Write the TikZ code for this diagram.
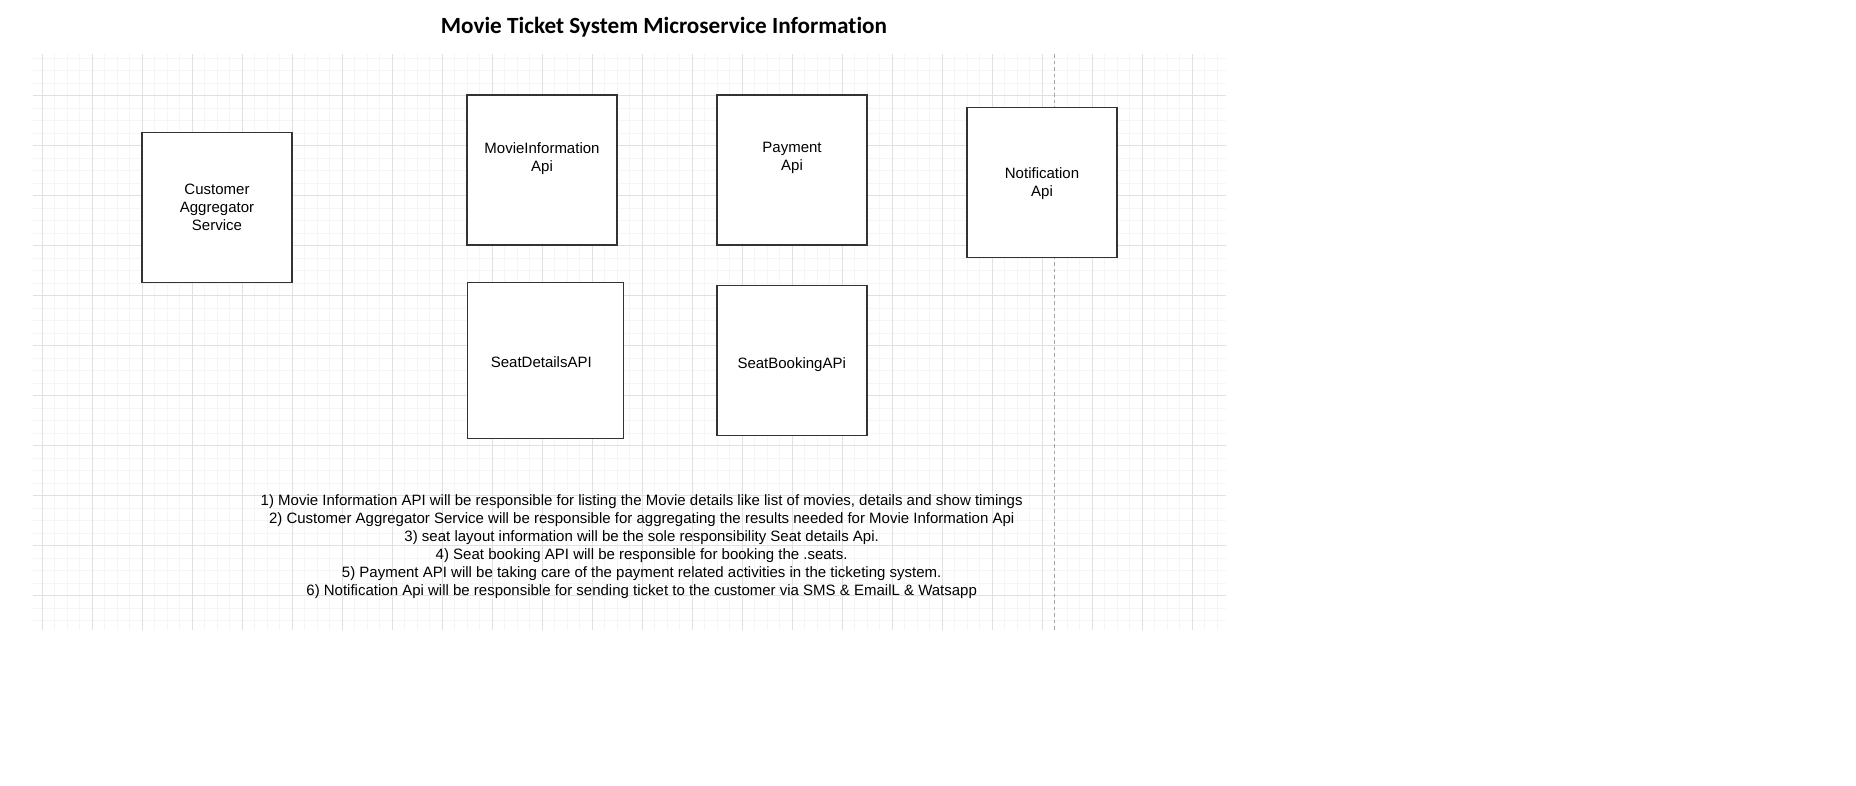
\documentclass[tikz,border=0pt]{standalone}
\usepackage{fontspec}
\setmainfont{Liberation Sans}
\newfontfamily\titlefont{Carlito}[Ligatures={NoCommon,NoRequired,NoContextual}]
\begin{document}
\begin{tikzpicture}[x=1pt,y=-1pt,
  box/.style={draw=black!80, line width=1.3pt, fill=white, inner sep=0pt, minimum width=150pt, minimum height=150pt},
  lbl/.style={inner sep=0pt, align=center, font=\fontsize{15}{18}\selectfont},
  minorline/.style={draw=black!4, line width=1pt},
  majorline/.style={draw=black!12, line width=1pt},
  sepline/.style={draw=black!35, line width=1pt, dash pattern=on 3.5pt off 3pt}]
\useasboundingbox[fill=white] (0,0) rectangle (1856,785);
% grid
\foreach \k in {0,...,94} { \draw[minorline] ({42.3+12.5*\k},54) -- ({42.3+12.5*\k},630); }
\foreach \k in {0,...,45} { \draw[minorline] (33,{58.2+12.5*\k}) -- (1226,{58.2+12.5*\k}); }
\foreach \k in {0,...,23} { \draw[majorline] ({42.3+50*\k},54) -- ({42.3+50*\k},630); }
\foreach \k in {0,...,10} { \draw[majorline] (33,{95.7+50*\k}) -- (1226,{95.7+50*\k}); }
\coordinate (septop) at (1054.3,54);
\coordinate (sepbot) at (1054.3,630);
\draw[sepline] (septop) -- (sepbot);
% title
\node[anchor=base, inner sep=0pt, font=\titlefont\bfseries\fontsize{23.2}{28}\selectfont] (title) at (664,33.3) {Movie Ticket System Microservice Information};
% boxes
\node[box] (cas) at (217,207.5) {};
\node[box] (mia) at (542,170) {};
\node[box] (pay) at (792,170) {};
\node[box] (notif) at (1042,182.7) {};
\node[box, minimum width=156pt, minimum height=156pt] (seatd) at (545.2,360.7) {};
\node[box] (seatb) at (792,360.5) {};
% labels
\node[lbl] (casl) at (217,207.5) {Customer\\Aggregator\\Service};
\node[lbl] (mial) at (542,158.2) {MovieInformation\\Api};
\node[lbl] (payl) at (792,158.2) {Payment\\Api};
\node[lbl] (notifl) at (1042,183.2) {Notification\\Api};
\node[lbl] (seatdl) at (541.3,361.7) {SeatDetailsAPI};
\node[lbl] (seatbl) at (791.7,364.3) {SeatBookingAPi};
% notes
\node[lbl, anchor=north] (notes) at (641.7,494.8) {1) Movie Information API will be responsible for listing the Movie details like list of movies, details and show timings\\
2) Customer Aggregator Service will be responsible for aggregating the results needed for Movie Information Api\\
3) seat layout information will be the sole responsibility Seat details Api.\\
4) Seat booking API will be responsible for booking the .seats.\\
5) Payment API will be taking care of the payment related activities in the ticketing system.\\
6) Notification Api will be responsible for sending ticket to the customer via SMS \& EmailL \& Watsapp};
\end{tikzpicture}
\end{document}
